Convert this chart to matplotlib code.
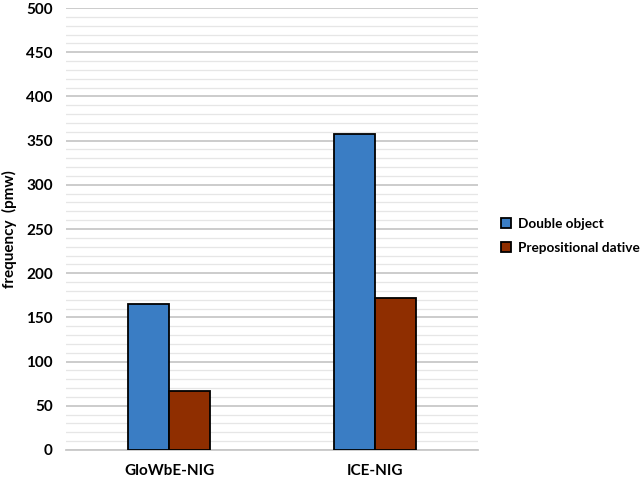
import numpy as np
import matplotlib
matplotlib.use("Agg")
import matplotlib.pyplot as plt

plt.rcParams['font.family'] = ['Lato', 'DejaVu Sans']

categories = ["GloWbE-NIG", "ICE-NIG"]
double_object = [165, 357]
prepositional_dative = [67, 172]
series_names = ["Double object", "Prepositional dative"]
colors = ["#3A7DC4", "#8F2E00"]

fig = plt.figure(figsize=(6.44, 4.78), dpi=100)
ax = fig.add_axes([0.1025, 0.0586, 0.640, 0.9246])

x = np.arange(len(categories))
w = 0.2
ax.bar(x - w / 2, double_object, w, color=colors[0], edgecolor="black",
       linewidth=1.3, label=series_names[0], zorder=3)
ax.bar(x + w / 2, prepositional_dative, w, color=colors[1], edgecolor="black",
       linewidth=1.3, label=series_names[1], zorder=3)

ax.set_xlim(-0.5, 1.5)
ax.set_ylim(0, 500)
ax.set_yticks(np.arange(0, 501, 50))
ax.set_yticks(np.arange(0, 501, 10), minor=True)
ax.grid(axis="y", which="major", color="#C8C8C8", linewidth=1.3, zorder=0)
ax.grid(axis="y", which="minor", color="#E6E6E6", linewidth=0.9, zorder=0)
ax.set_xticks(x)
ax.set_xticklabels(categories, fontsize=11, fontweight="bold")
for lbl in ax.get_yticklabels():
    lbl.set_fontsize(11)
    lbl.set_fontweight("bold")
ax.tick_params(axis="both", which="both", length=0)
ax.tick_params(axis="y", pad=9.5)
ax.tick_params(axis="x", pad=10)
for s in ["top", "right", "left"]:
    ax.spines[s].set_visible(False)
ax.spines["bottom"].set_color("#C8C8C8")
ax.spines["bottom"].set_linewidth(1.3)

ax.set_ylabel("frequency  (pmw)", fontsize=11, fontweight="bold")
ax.yaxis.set_label_coords(-0.118, 0.5)

ax.legend(loc="center left", bbox_to_anchor=(1.055, 0.484), frameon=False,
          prop={"size": 9.8, "weight": "bold"}, handlelength=0.75,
          handleheight=0.75, labelspacing=0.9, handletextpad=0.5,
          borderpad=0, borderaxespad=0)

fig.savefig("out.png", dpi=100)
